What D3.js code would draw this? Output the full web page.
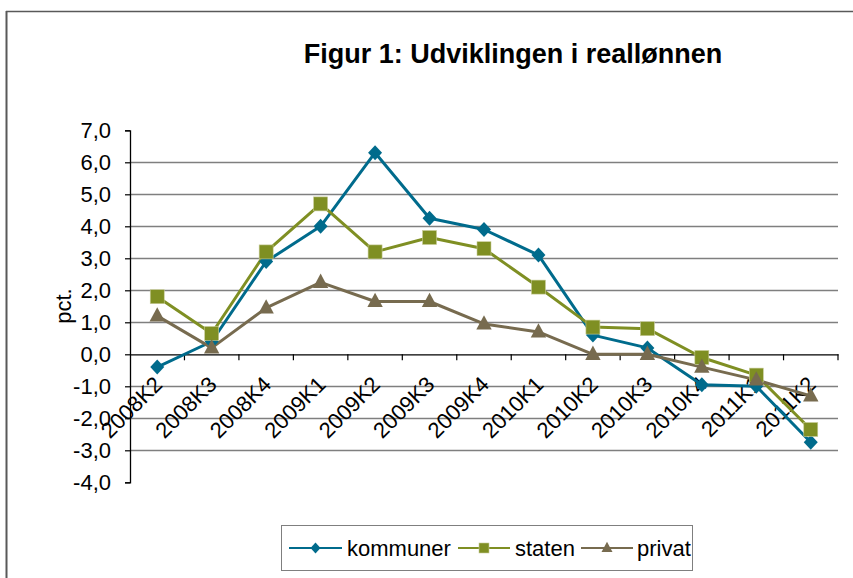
<!DOCTYPE html>
<html>
<head>
<meta charset="utf-8">
<script src="https://cdn.jsdelivr.net/npm/d3@7"></script>
<style>
  html, body { margin: 0; padding: 0; background: #fff; }
  svg { display: block; font-family: "Liberation Sans", Arial, sans-serif; }
</style>
</head>
<body>
<svg id="chart" width="853" height="578"></svg>
<script>
const categories = ["2008K2","2008K3","2008K4","2009K1","2009K2","2009K3","2009K4","2010K1","2010K2","2010K3","2010K4","2011K1","2011K2"];
const kommuner = [-0.4, 0.4, 2.9, 4.0, 6.3, 4.25, 3.9, 3.1, 0.6, 0.2, -0.95, -1.0, -2.75];
const staten   = [1.8, 0.65, 3.2, 4.7, 3.2, 3.65, 3.3, 2.1, 0.85, 0.8, -0.1, -0.65, -2.35];
const privat   = [1.2, 0.2, 1.45, 2.25, 1.65, 1.65, 0.95, 0.7, 0.0, 0.0, -0.4, -0.8, -1.3];
const yTicks = [-4, -3, -2, -1, 0, 1, 2, 3, 4, 5, 6, 7];
const seriesNames = ["kommuner", "staten", "privat"];
const seriesColors = ["#006B8C", "#7F8F23", "#776B4F"];
const titleText = "Figur 1: Udviklingen i reallønnen";
const yLabel = "pct.";

const svg = d3.select("#chart");
const plot = { left: 130, right: 838, top: 130.3, bottom: 482.3 };

// outer frame (left and top edges)
svg.append("line").attr("x1", 6.5).attr("x2", 6.5).attr("y1", 11).attr("y2", 578)
  .attr("stroke", "#595959").attr("stroke-width", 2);
svg.append("line").attr("x1", 6).attr("x2", 853).attr("y1", 11.5).attr("y2", 11.5)
  .attr("stroke", "#595959").attr("stroke-width", 1.5);

const x = d3.scaleBand().domain(categories).range([plot.left, plot.right]).padding(0);
const y = d3.scaleLinear().domain([-4, 7]).range([plot.bottom, plot.top]);

// gridlines
svg.append("g").selectAll("line")
  .data(yTicks.filter(v => v !== 0 && v !== 7 && v !== -4))
  .join("line")
  .attr("x1", plot.left).attr("x2", plot.right)
  .attr("y1", d => Math.round(y(d)) + 0.5).attr("y2", d => Math.round(y(d)) + 0.5)
  .attr("stroke", "#7f7f7f").attr("stroke-width", 1.3);

// y axis
const yAxis = d3.axisLeft(y).tickValues(yTicks).tickSize(5).tickPadding(14)
  .tickFormat(d => d3.format(".1f")(d).replace(".", ",").replace("−", "-"));
const gy = svg.append("g").attr("transform", `translate(${plot.left},0)`).call(yAxis);
gy.select(".domain").attr("stroke", "#000").attr("stroke-width", 1.3);
gy.selectAll(".tick line").attr("stroke", "#000").attr("stroke-width", 1.2);
gy.selectAll(".tick text").attr("font-size", 22).attr("fill", "#000")
  .attr("font-family", "Liberation Sans, Arial, sans-serif");

// x axis at zero
const xAxis = d3.axisBottom(x).tickSize(0).tickFormat(d => d);
const gx = svg.append("g").attr("transform", `translate(0,${y(0)})`).call(xAxis);
gx.select(".domain").attr("stroke", "#000").attr("stroke-width", 1.3);
gx.selectAll(".tick text")
  .attr("font-size", 22).attr("fill", "#000")
  .attr("font-family", "Liberation Sans, Arial, sans-serif")
  .attr("text-anchor", "end")
  .attr("dy", "0.35em").attr("y", 0)
  .attr("transform", "translate(1,26) rotate(-45)");
// category boundary ticks
const bounds = categories.map(c => x(c)).concat([plot.right]);
gx.append("g").selectAll("line").data(bounds.slice(1)).join("line")
  .attr("x1", d => d).attr("x2", d => d).attr("y1", 0).attr("y2", 6)
  .attr("stroke", "#000").attr("stroke-width", 1.2);

// series
const allSeries = [kommuner, staten, privat];
const cx = c => x(c) + x.bandwidth() / 2;
const line = d3.line().x((d, i) => cx(categories[i])).y(d => y(d));

function drawMarker(g, type, color, size) {
  if (type === 0) {
    const w = size / 2, h = size / 2 + 0.5;
    g.append("path").attr("d", `M0,${-h} L${w},0 L0,${h} L${-w},0 Z`)
      .attr("fill", color);
  } else if (type === 1) {
    g.append("rect").attr("x", -size / 2).attr("y", -size / 2).attr("width", size).attr("height", size)
      .attr("fill", color).attr("stroke", "#c8cc9a").attr("stroke-width", 0.6);
  } else {
    g.append("path").attr("d", `M0,${-size*0.62} L${size*0.55},${size*0.4} L${-size*0.55},${size*0.4} Z`)
      .attr("fill", color);
  }
}

allSeries.forEach((vals, si) => {
  svg.append("path").datum(vals).attr("d", line)
    .attr("fill", "none").attr("stroke", seriesColors[si]).attr("stroke-width", 3)
    .attr("stroke-linejoin", "round");
});
allSeries.forEach((vals, si) => {
  vals.forEach((v, i) => {
    const g = svg.append("g").attr("transform", `translate(${cx(categories[i])},${y(v)})`);
    drawMarker(g, si, seriesColors[si], 14);
  });
});

// title
svg.append("text").attr("x", 513).attr("y", 63).attr("text-anchor", "middle")
  .attr("font-size", 27).attr("font-weight", "bold").attr("fill", "#000").text(titleText);

// y label
svg.append("text").attr("transform", "translate(71,306) rotate(-90)")
  .attr("text-anchor", "middle").attr("font-size", 22).attr("fill", "#000").text(yLabel);

// legend
const leg = svg.append("g");
leg.append("rect").attr("x", 281.5).attr("y", 525.5).attr("width", 411).attr("height", 45)
  .attr("fill", "#fff").attr("stroke", "#7f7f7f").attr("stroke-width", 1);
const legItems = [
  { x1: 289, x2: 342, tx: 347 },
  { x1: 458, x2: 510, tx: 515 },
  { x1: 581, x2: 633, tx: 637 }
];
seriesNames.forEach((name, si) => {
  const it = legItems[si];
  const ly = 548;
  leg.append("line").attr("x1", it.x1).attr("x2", it.x2).attr("y1", ly).attr("y2", ly)
    .attr("stroke", seriesColors[si]).attr("stroke-width", 2);
  const g = leg.append("g").attr("transform", `translate(${(it.x1 + it.x2) / 2},${ly})`);
  drawMarker(g, si, seriesColors[si], 10);
  leg.append("text").attr("x", it.tx).attr("y", ly).attr("dy", "0.35em")
    .attr("font-size", 22).attr("fill", "#000").text(name);
});
</script>
</body>
</html>
